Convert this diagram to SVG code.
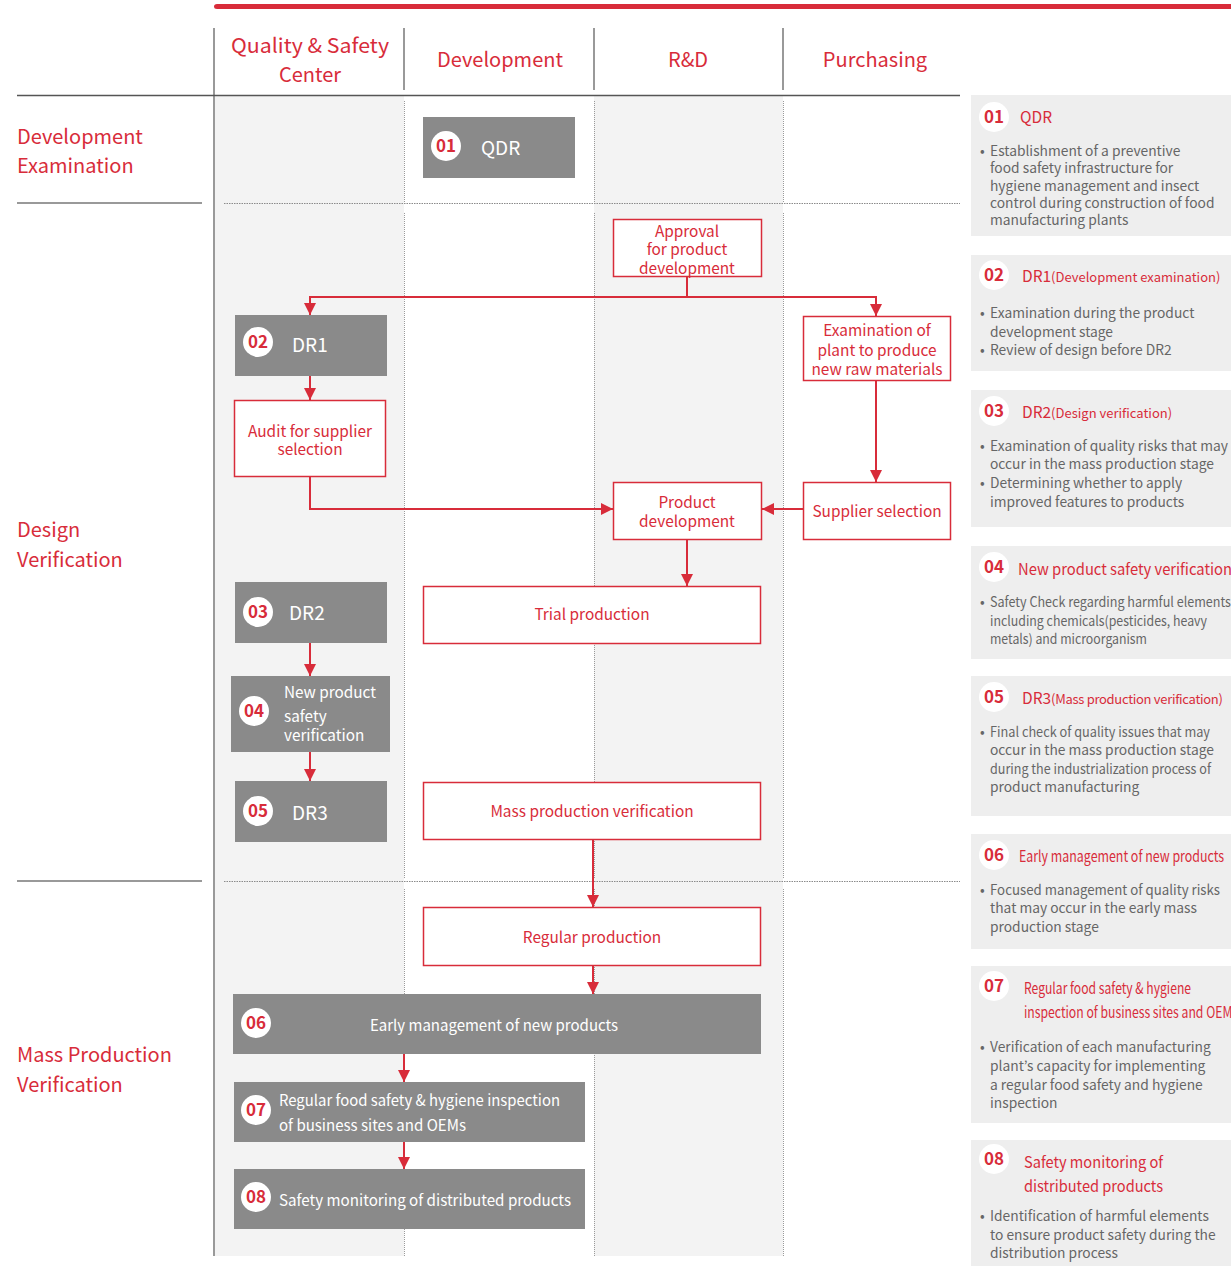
<svg xmlns="http://www.w3.org/2000/svg" width="1231" height="1266" viewBox="0 0 1231 1266">
<defs>
<marker id="arr" viewBox="0 0 10 10" refX="10" refY="5" markerWidth="12" markerHeight="12" markerUnits="userSpaceOnUse" orient="auto">
<path d="M0,0 L10,5 L0,10 z" fill="#d82c3a"/>
</marker>
</defs>
<style>
text{font-family:"Noto Sans CJK KR","Noto Sans",sans-serif;}
.hdr{font-size:20px;fill:#d82c3a;text-anchor:middle;}
.sec{font-size:20px;fill:#d82c3a;}
.gbox{fill:#8a8a8a;}
.wbox{fill:#ffffff;stroke:#d82c3a;stroke-width:1.5;}
.gtxt{font-size:19px;fill:#ffffff;}
.gsm{font-size:15.3px;fill:#ffffff;}
.rtxt{font-size:15.4px;fill:#d82c3a;text-anchor:middle;}
.badge{fill:#ffffff;}
.num{font-size:17px;font-weight:700;fill:#d82c3a;text-anchor:middle;}
.pbg{fill:#eeeeee;}
.ptitle{font-size:15.5px;fill:#d82c3a;}
.psmall{font-size:13px;}
.pb{font-size:13.8px;fill:#666666;}
.conn{fill:none;stroke:#d82c3a;stroke-width:2;marker-end:url(#arr);}
.vdot{stroke:#9a9a9a;stroke-width:1;stroke-dasharray:1 1;}
.hdot{stroke:#8a8a8a;stroke-width:1;stroke-dasharray:1.5 1;}
</style>

<!-- backgrounds -->
<rect x="214" y="96" width="190" height="1160" fill="#f3f3f3"/>
<rect x="594" y="96" width="189" height="1160" fill="#f3f3f3"/>

<!-- top red bar -->
<path d="M217,4 H1231 V9 H217 Q214,9 214,6.5 Q214,4 217,4 z" fill="#d82c3a"/>

<!-- header separators -->
<g stroke="#999999" stroke-width="2">
<line x1="214" y1="28" x2="214" y2="1256"/>
<line x1="404" y1="28" x2="404" y2="90"/>
<line x1="594" y1="28" x2="594" y2="90"/>
<line x1="783" y1="28" x2="783" y2="90"/>
</g>
<line x1="17" y1="95.5" x2="960" y2="95.5" stroke="#555555" stroke-width="1.5"/>
<line x1="17" y1="203" x2="202" y2="203" stroke="#999999" stroke-width="2"/>
<line x1="17" y1="881" x2="202" y2="881" stroke="#999999" stroke-width="2"/>

<!-- dotted grid -->
<g>
<line class="vdot" x1="404.5" y1="101" x2="404.5" y2="202"/>
<line class="vdot" x1="404.5" y1="213" x2="404.5" y2="879"/>
<line class="vdot" x1="404.5" y1="889" x2="404.5" y2="1256"/>
<line class="vdot" x1="594.5" y1="101" x2="594.5" y2="202"/>
<line class="vdot" x1="594.5" y1="213" x2="594.5" y2="879"/>
<line class="vdot" x1="594.5" y1="889" x2="594.5" y2="1256"/>
<line class="vdot" x1="783.5" y1="101" x2="783.5" y2="202"/>
<line class="vdot" x1="783.5" y1="213" x2="783.5" y2="879"/>
<line class="vdot" x1="783.5" y1="889" x2="783.5" y2="1256"/>
<line class="hdot" x1="224" y1="203.5" x2="960" y2="203.5"/>
<line class="hdot" x1="224" y1="881.5" x2="960" y2="881.5"/>
</g>

<!-- headers -->
<text class="hdr" x="310" y="53" textLength="158" lengthAdjust="spacingAndGlyphs">Quality &amp; Safety</text>
<text class="hdr" x="310" y="82">Center</text>
<text class="hdr" x="500" y="67">Development</text>
<text class="hdr" x="688" y="67">R&amp;D</text>
<text class="hdr" x="875" y="67">Purchasing</text>

<!-- section labels -->
<text class="sec" x="17" y="144">Development</text>
<text class="sec" x="17" y="173">Examination</text>
<text class="sec" x="17" y="537">Design</text>
<text class="sec" x="17" y="567">Verification</text>
<text class="sec" x="17" y="1062">Mass Production</text>
<text class="sec" x="17" y="1092">Verification</text>

<!-- connectors -->
<g id="connectors">
<path class="conn" d="M687,277 V297 H310 V315"/>
<path class="conn" d="M687,297 H876 V316"/>
<path class="conn" d="M310,376 V400"/>
<path class="conn" d="M310,477 V509 H613"/>
<path class="conn" d="M876,381 V482"/>
<path class="conn" d="M803,509 H762"/>
<path class="conn" d="M687,540 V586"/>
<path class="conn" d="M310,643 V676"/>
<path class="conn" d="M310,752 V781"/>
<path class="conn" d="M593,840 V907"/>
<path class="conn" d="M593,966 V994"/>
<path class="conn" d="M404,1054 V1082"/>
<path class="conn" d="M404,1142 V1169"/>
</g>

<!-- flow nodes -->
<g id="n01">
<rect class="gbox" x="423" y="117" width="152" height="61"/>
<circle class="badge" cx="446" cy="146" r="15"/>
<text class="num" x="446" y="152">01</text>
<text class="gtxt" x="481" y="155" font-size="20">QDR</text>
</g>
<g id="approval">
<rect class="wbox" x="613.5" y="219.5" width="148" height="57"/>
<text class="rtxt" x="687" y="237">Approval</text>
<text class="rtxt" x="687" y="255">for product</text>
<text class="rtxt" x="687" y="274">development</text>
</g>
<g id="n02">
<rect class="gbox" x="235" y="315" width="152" height="61"/>
<circle class="badge" cx="258" cy="342" r="15"/>
<text class="num" x="258" y="348">02</text>
<text class="gtxt" x="292" y="352">DR1</text>
</g>
<g id="audit">
<rect class="wbox" x="234.5" y="400.5" width="151" height="76"/>
<text class="rtxt" x="310" y="437">Audit for supplier</text>
<text class="rtxt" x="310" y="455">selection</text>
</g>
<g id="exam">
<rect class="wbox" x="803.5" y="316.5" width="147" height="64"/>
<text class="rtxt" x="877" y="336">Examination of</text>
<text class="rtxt" x="877" y="356">plant to produce</text>
<text class="rtxt" x="877" y="375">new raw materials</text>
</g>
<g id="supplier">
<rect class="wbox" x="803.5" y="482.5" width="147" height="57"/>
<text class="rtxt" x="877" y="517">Supplier selection</text>
</g>
<g id="proddev">
<rect class="wbox" x="613.5" y="482.5" width="148" height="57"/>
<text class="rtxt" x="687" y="508">Product</text>
<text class="rtxt" x="687" y="527">development</text>
</g>
<g id="trial">
<rect class="wbox" x="423.5" y="586.5" width="337" height="57"/>
<text class="rtxt" x="592" y="620">Trial production</text>
</g>
<g id="n03">
<rect class="gbox" x="235" y="582" width="152" height="61"/>
<circle class="badge" cx="258" cy="612" r="15"/>
<text class="num" x="258" y="618">03</text>
<text class="gtxt" x="289" y="620">DR2</text>
</g>
<g id="n04">
<rect class="gbox" x="231" y="676" width="159" height="76"/>
<circle class="badge" cx="254" cy="711" r="15"/>
<text class="num" x="254" y="717">04</text>
<text class="gsm" x="284" y="698">New product</text>
<text class="gsm" x="284" y="722">safety</text>
<text class="gsm" x="284" y="741">verification</text>
</g>
<g id="n05">
<rect class="gbox" x="235" y="781" width="152" height="61"/>
<circle class="badge" cx="258" cy="811" r="15"/>
<text class="num" x="258" y="817">05</text>
<text class="gtxt" x="292" y="820">DR3</text>
</g>
<g id="massprod">
<rect class="wbox" x="423.5" y="782.5" width="337" height="57"/>
<text class="rtxt" x="592" y="817">Mass production verification</text>
</g>
<g id="regular">
<rect class="wbox" x="423.5" y="907.5" width="337" height="58"/>
<text class="rtxt" x="592" y="943">Regular production</text>
</g>
<g id="n06">
<rect class="gbox" x="233" y="994" width="528" height="60"/>
<circle class="badge" cx="256" cy="1023" r="15"/>
<text class="num" x="256" y="1029">06</text>
<text class="gsm" x="370" y="1031" textLength="248" lengthAdjust="spacingAndGlyphs">Early management of new products</text>
</g>
<g id="n07">
<rect class="gbox" x="234" y="1082" width="351" height="60"/>
<circle class="badge" cx="256" cy="1110" r="15"/>
<text class="num" x="256" y="1116">07</text>
<text class="gsm" x="279" y="1106" textLength="281" lengthAdjust="spacingAndGlyphs">Regular food safety &amp; hygiene inspection</text>
<text class="gsm" x="279" y="1131" textLength="187" lengthAdjust="spacingAndGlyphs">of business sites and OEMs</text>
</g>
<g id="n08">
<rect class="gbox" x="234" y="1169" width="351" height="60"/>
<circle class="badge" cx="256" cy="1197" r="15"/>
<text class="num" x="256" y="1203">08</text>
<text class="gsm" x="279" y="1206" textLength="292" lengthAdjust="spacingAndGlyphs">Safety monitoring of distributed products</text>
</g>

<!-- right panels -->
<g id="p01">
<rect class="pbg" x="971" y="95" width="260" height="141"/>
<circle class="badge" cx="994" cy="117" r="15"/>
<text class="num" x="994" y="123">01</text>
<text class="ptitle" x="1020" y="123" font-size="16.5">QDR</text>
<text class="pb" x="980" y="156">•</text>
<text class="pb" x="990" y="156">Establishment of a preventive</text>
<text class="pb" x="990" y="173">food safety infrastructure for</text>
<text class="pb" x="990" y="191">hygiene management and insect</text>
<text class="pb" x="990" y="208">control during construction of food</text>
<text class="pb" x="990" y="225">manufacturing plants</text>
</g>
<g id="p02">
<rect class="pbg" x="971" y="255" width="260" height="116"/>
<circle class="badge" cx="994" cy="275" r="15"/>
<text class="num" x="994" y="281">02</text>
<text class="ptitle" x="1022" y="282">DR1<tspan class="psmall">(Development examination)</tspan></text>
<text class="pb" x="980" y="318">•</text>
<text class="pb" x="990" y="318">Examination during the product</text>
<text class="pb" x="990" y="337">development stage</text>
<text class="pb" x="980" y="355">•</text>
<text class="pb" x="990" y="355">Review of design before DR2</text>
</g>
<g id="p03">
<rect class="pbg" x="971" y="390" width="260" height="137"/>
<circle class="badge" cx="994" cy="411" r="15"/>
<text class="num" x="994" y="417">03</text>
<text class="ptitle" x="1022" y="418">DR2<tspan class="psmall">(Design verification)</tspan></text>
<text class="pb" x="980" y="451">•</text>
<text class="pb" x="990" y="451" textLength="238" lengthAdjust="spacingAndGlyphs">Examination of quality risks that may</text>
<text class="pb" x="990" y="469">occur in the mass production stage</text>
<text class="pb" x="980" y="488">•</text>
<text class="pb" x="990" y="488">Determining whether to apply</text>
<text class="pb" x="990" y="507">improved features to products</text>
</g>
<g id="p04">
<rect class="pbg" x="971" y="546" width="260" height="113"/>
<circle class="badge" cx="994" cy="567" r="15"/>
<text class="num" x="994" y="573">04</text>
<text class="ptitle" x="1018" y="575" textLength="214" lengthAdjust="spacingAndGlyphs">New product safety verification</text>
<text class="pb" x="980" y="607">•</text>
<text class="pb" x="990" y="607" textLength="241" lengthAdjust="spacingAndGlyphs">Safety Check regarding harmful elements</text>
<text class="pb" x="990" y="626" textLength="217" lengthAdjust="spacingAndGlyphs">including chemicals(pesticides, heavy</text>
<text class="pb" x="990" y="644" textLength="157" lengthAdjust="spacingAndGlyphs">metals) and microorganism</text>
</g>
<g id="p05">
<rect class="pbg" x="971" y="676" width="260" height="140"/>
<circle class="badge" cx="994" cy="697" r="15"/>
<text class="num" x="994" y="703">05</text>
<text class="ptitle" x="1022" y="704">DR3<tspan class="psmall" letter-spacing="-0.3">(Mass production verification)</tspan></text>
<text class="pb" x="980" y="737">•</text>
<text class="pb" x="990" y="737" textLength="220" lengthAdjust="spacingAndGlyphs">Final check of quality issues that may</text>
<text class="pb" x="990" y="755">occur in the mass production stage</text>
<text class="pb" x="990" y="774" textLength="221" lengthAdjust="spacingAndGlyphs">during the industrialization process of</text>
<text class="pb" x="990" y="792">product manufacturing</text>
</g>
<g id="p06">
<rect class="pbg" x="971" y="834" width="260" height="115"/>
<circle class="badge" cx="994" cy="855" r="15"/>
<text class="num" x="994" y="861">06</text>
<text class="ptitle" x="1019" y="862" textLength="205" lengthAdjust="spacingAndGlyphs">Early management of new products</text>
<text class="pb" x="980" y="895">•</text>
<text class="pb" x="990" y="895" textLength="230" lengthAdjust="spacingAndGlyphs">Focused management of quality risks</text>
<text class="pb" x="990" y="913">that may occur in the early mass</text>
<text class="pb" x="990" y="932">production stage</text>
</g>
<g id="p07">
<rect class="pbg" x="971" y="966" width="260" height="157"/>
<circle class="badge" cx="994" cy="986" r="15"/>
<text class="num" x="994" y="992">07</text>
<text class="ptitle" x="1024" y="994" textLength="167" lengthAdjust="spacingAndGlyphs">Regular food safety &amp; hygiene</text>
<text class="ptitle" x="1024" y="1018" textLength="214" lengthAdjust="spacingAndGlyphs">inspection of business sites and OEMs</text>
<text class="pb" x="980" y="1052">•</text>
<text class="pb" x="990" y="1052">Verification of each manufacturing</text>
<text class="pb" x="990" y="1071">plant’s capacity for implementing</text>
<text class="pb" x="990" y="1090">a regular food safety and hygiene</text>
<text class="pb" x="990" y="1108">inspection</text>
</g>
<g id="p08">
<rect class="pbg" x="971" y="1140" width="260" height="126"/>
<circle class="badge" cx="994" cy="1159" r="15"/>
<text class="num" x="994" y="1165">08</text>
<text class="ptitle" x="1024" y="1168" textLength="139" lengthAdjust="spacingAndGlyphs">Safety monitoring of</text>
<text class="ptitle" x="1024" y="1192" textLength="139" lengthAdjust="spacingAndGlyphs">distributed products</text>
<text class="pb" x="980" y="1221">•</text>
<text class="pb" x="990" y="1221">Identification of harmful elements</text>
<text class="pb" x="990" y="1240">to ensure product safety during the</text>
<text class="pb" x="990" y="1258">distribution process</text>
</g>
</svg>
